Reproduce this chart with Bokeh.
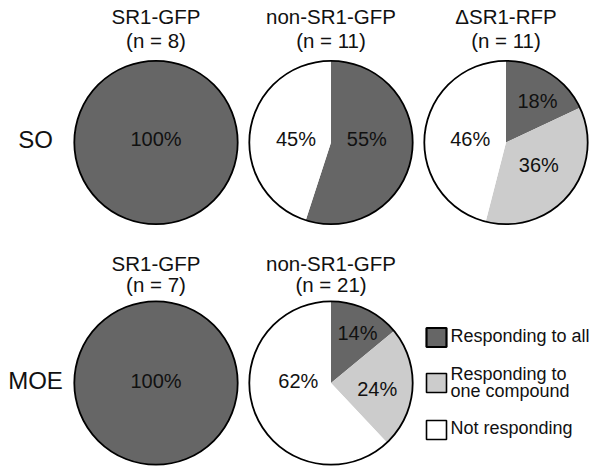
import math
from bokeh.plotting import figure
from bokeh.models import Range1d
from bokeh.core.properties import value
from bokeh.embed import file_html
from bokeh.resources import INLINE

# ---------------- data ----------------
row_labels = ["SO", "MOE"]

so_groups = ["SR1-GFP", "non-SR1-GFP", "\u0394SR1-RFP"]
so_n = [8, 11, 11]
so_all = [100, 55, 18]      # responding to all (%)
so_one = [0, 0, 36]         # responding to one compound (%)
so_none = [0, 45, 46]       # not responding (%)

moe_groups = ["SR1-GFP", "non-SR1-GFP"]
moe_n = [7, 21]
moe_all = [100, 14]
moe_one = [0, 24]
moe_none = [0, 62]

legend_labels = ["Responding to all", "Responding to\none compound", "Not responding"]

# ---------------- layout / style ----------------
W, H = 600, 473
R = 81.7
col_x = [155.5, 330.5, 505.5]
row_y = [142, 382.5]
title_mid = [(16, 40), (262.5, 284)]
row_label_x = 35
row_label_y = [139, 380]
slice_colors = ["#666666", "#cccccc", "#ffffff"]
FONT = value("Liberation Sans")
label_polar = {
    (0, 0): [(0.04, 0)],
    (0, 1): [(0.44, 85), (0.43, 275)],
    (0, 2): [(0.64, 37), (0.49, 125), (0.44, 275)],
    (1, 0): [(0.03, 0)],
    (1, 1): [(0.69, 28), (0.57, 97), (0.40, 273)],
}
legend_box_x = 436
legend_box_y = [337, 382.5, 429.5]
legend_line_w = [2.2, 1.6, 1.6]
legend_text_x = 450
legend_text_mid = [[335.5], [373.5], [390.5], [427.5]]
legend_text_mid = [[335.5], [373.5, 390.5], [427.5]]


def Y(ref_y):
    return H - ref_y


p = figure(width=W, height=H, x_range=Range1d(0, W), y_range=Range1d(0, H),
           output_backend="svg", toolbar_location=None, tools="", title=None,
           x_axis_location=None, y_axis_location=None, min_border=0)
p.grid.visible = False
p.outline_line_color = None
p.background_fill_color = "white"
p.border_fill_color = "white"

rows = [
    (so_groups, so_n, [so_all, so_one, so_none]),
    (moe_groups, moe_n, [moe_all, moe_one, moe_none]),
]

wx, wy, wr, ws, we, wc = [], [], [], [], [], []
fx, fy, fc = [], [], []
ox, oy = [], []
tx, ty, tt = [], [], []
lx, ly, lt = [], [], []

for ri, (groups, ns, series) in enumerate(rows):
    cy = row_y[ri]
    for ci, g in enumerate(groups):
        cx = col_x[ci]
        vals = [s[ci] for s in series]
        total = sum(vals)
        ox.append(cx); oy.append(Y(cy))
        m1, m2 = title_mid[ri]
        tx += [cx, cx]; ty += [Y(m1), Y(m2)]; tt += [g, "(n = %d)" % ns[ci]]
        cum = 0.0
        k = 0
        for si, v in enumerate(vals):
            if v <= 0:
                continue
            frac = v / total
            c0, c1 = cum * 360.0, (cum + frac) * 360.0
            cum += frac
            if frac >= 0.999:
                fx.append(cx); fy.append(Y(cy)); fc.append(slice_colors[si])
            else:
                wx.append(cx); wy.append(Y(cy)); wr.append(R)
                ws.append(math.radians(90 - c1)); we.append(math.radians(90 - c0))
                wc.append(slice_colors[si])
            rf, ang = label_polar[(ri, ci)][k]
            k += 1
            a = math.radians(ang)
            lx.append(cx + rf * R * math.sin(a))
            ly.append(Y(cy) + rf * R * math.cos(a))
            lt.append("%d%%" % v)

if fx:
    p.circle(x=fx, y=fy, radius=R, fill_color=fc, line_color=None)
p.wedge(x=wx, y=wy, radius=wr, start_angle=ws, end_angle=we, direction="anticlock",
        fill_color=wc, line_color=None)
p.circle(x=ox, y=oy, radius=R, fill_color=None, line_color="black", line_width=1.8)

p.text(x=lx, y=ly, text=lt, text_font=FONT, text_font_size=value("20px"),
       text_align="center", text_baseline="middle", text_color="#111111")
p.text(x=tx, y=ty, text=tt, text_font=FONT, text_font_size=value("20.5px"),
       text_align="center", text_baseline="middle", text_color="#111111")
p.text(x=[row_label_x] * len(row_labels), y=[Y(v) for v in row_label_y], text=row_labels,
       text_font=FONT, text_font_size=value("24px"), text_align="center",
       text_baseline="middle", text_color="#111111")

p.rect(x=[legend_box_x] * 3, y=[Y(v) for v in legend_box_y], width=20, height=19,
       fill_color=slice_colors, line_color="black", line_width=legend_line_w)
gx, gy, gt = [], [], []
for i, lab in enumerate(legend_labels):
    for j, line in enumerate(lab.split("\n")):
        gx.append(legend_text_x); gy.append(Y(legend_text_mid[i][j])); gt.append(line)
p.text(x=gx, y=gy, text=gt, text_font=FONT, text_font_size=value("18px"),
       text_align="left", text_baseline="middle", text_color="#111111")

open("out.html", "w").write(file_html(p, INLINE))
